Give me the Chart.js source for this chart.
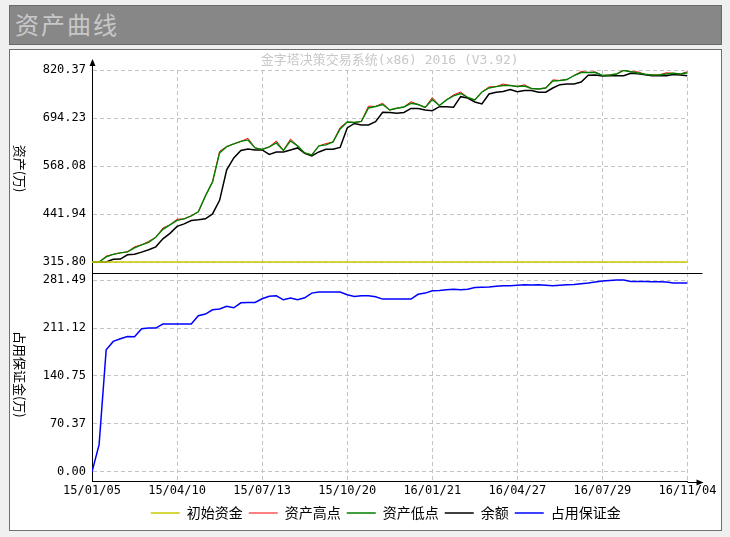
<!DOCTYPE html>
<html>
<head>
<meta charset="utf-8">
<title>资产曲线</title>
<script src="https://cdn.jsdelivr.net/npm/chart.js@4.4.1/dist/chart.umd.min.js"></script>
<style>
  html, body { margin: 0; padding: 0; background: #f0f0f0; width: 730px; height: 537px; overflow: hidden; }
  #titleBar {
    position: absolute; left: 9px; top: 5px; width: 713px; height: 40px; box-sizing: border-box;
    background: #878787; border: 1px solid #6a6a6a; color: #c8c8c8;
    font: 24px "Noto Sans CJK SC", sans-serif; line-height: 36px; padding-left: 5px; letter-spacing: 2px;
  }
  #panel { position: absolute; left: 9px; top: 49px; width: 711px; height: 480px; background: #fff; border: 1px solid #707070; }
  #panel canvas { position: absolute; left: 0; top: 0; }
</style>
</head>
<body>
<div id="titleBar">资产曲线</div>
<div id="panel"><canvas id="equity" width="711" height="480"></canvas></div>
<script>
// tick labels on the date axis, one every 12 points
var xLabels = ['15/01/05', '15/04/10', '15/07/13', '15/10/20', '16/01/21', '16/04/27', '16/07/29', '16/11/04'];
var labelStep = 12;

var initCapital = 315.80;

// 资产高点
var assetHigh = [
  316.0, 316.0, 331.5, 336.3, 340.2, 342.8, 356.0, 361.2, 370.5, 380.9,
  405.5, 413.7, 428.5, 429.4, 437.3, 447.8, 489.8, 526.5, 607.0, 619.1,
  626.2, 632.8, 641.0, 615.7, 611.8, 618.3, 634.0, 609.2, 639.0, 621.0,
  602.6, 597.3, 621.0, 627.0, 631.5, 669.5, 683.9, 682.6, 685.2, 725.5,
  724.6, 733.0, 715.4, 719.9, 723.3, 737.0, 729.8, 722.0, 748.0, 727.2,
  741.7, 755.0, 762.5, 748.2, 741.7, 762.6, 776.0, 776.6, 783.5, 779.7,
  777.1, 781.5, 771.8, 770.5, 773.1, 794.5, 792.8, 795.4, 805.9, 816.5,
  813.8, 815.5, 805.9, 807.3, 809.9, 820.37, 815.9, 815.5, 809.1, 807.3,
  807.3, 813.0, 811.7, 809.9, 816.0
];

// 资产低点
var assetLow = [
  316.0, 316.0, 329.7, 336.3, 340.2, 342.8, 353.3, 361.2, 367.8, 380.9,
  401.9, 413.7, 425.5, 429.4, 437.3, 447.8, 489.8, 526.5, 602.6, 619.1,
  626.2, 632.8, 636.7, 615.7, 611.8, 618.3, 628.8, 609.2, 634.1, 621.0,
  602.6, 597.3, 621.0, 623.6, 631.5, 665.6, 683.9, 682.6, 685.2, 720.7,
  724.6, 729.8, 715.4, 719.9, 723.3, 733.0, 729.8, 722.0, 743.0, 727.2,
  741.7, 752.2, 758.7, 748.2, 741.7, 762.6, 773.1, 776.6, 779.7, 779.7,
  777.1, 778.4, 771.8, 770.5, 773.1, 791.5, 792.8, 795.4, 805.9, 813.8,
  813.8, 813.8, 805.9, 807.3, 809.9, 819.1, 815.9, 812.5, 809.1, 807.3,
  807.3, 809.9, 811.7, 809.9, 813.3
];

// 余额
var balance = [
  316.0, 316.0, 316.0, 323.1, 323.7, 335.0, 336.3, 342.0, 348.1, 355.9,
  376.9, 391.4, 409.7, 416.3, 425.0, 426.8, 429.4, 442.5, 478.0, 558.0,
  589.5, 609.2, 613.1, 610.5, 610.5, 598.7, 605.2, 605.2, 610.5, 615.7,
  601.8, 594.7, 605.2, 612.3, 612.3, 617.0, 668.2, 680.0, 676.1, 676.1,
  684.7, 709.4, 708.9, 706.8, 708.9, 719.4, 719.4, 715.4, 713.6, 724.1,
  724.1, 722.5, 750.3, 746.9, 736.4, 731.2, 757.4, 761.9, 764.0, 769.2,
  763.4, 766.6, 766.6, 761.9, 761.9, 773.1, 781.8, 783.6, 783.6, 788.9,
  806.5, 807.3, 804.6, 805.4, 805.4, 805.4, 811.7, 810.7, 808.0, 805.4,
  805.4, 805.4, 808.6, 807.3, 805.4
];

// 占用保证金
var margin = [
  0.00, 40.0, 179.3, 191.5, 195.4, 198.8, 198.4, 210.1, 211.1, 211.1,
  217.0, 217.0, 217.0, 217.0, 217.0, 229.2, 231.6, 237.9, 239.0, 243.1,
  240.9, 248.2, 248.7, 248.7, 254.1, 257.7, 258.5, 252.6, 255.1, 252.6,
  255.5, 262.4, 263.9, 263.9, 263.9, 263.9, 259.9, 257.4, 258.5, 258.5,
  257.0, 253.6, 253.6, 253.6, 253.6, 253.6, 260.7, 262.4, 265.8, 266.2,
  267.3, 268.0, 267.3, 268.0, 270.6, 270.9, 271.4, 272.4, 273.1, 273.1,
  273.9, 274.6, 274.3, 274.6, 273.9, 273.1, 273.9, 274.6, 275.2, 276.1,
  277.2, 278.6, 280.2, 280.9, 281.49, 281.49, 279.4, 279.4, 279.3, 279.0,
  279.0, 278.6, 277.1, 277.1, 277.1
];

var assetTicks = [315.80, 441.94, 568.08, 694.23, 820.37];
var marginTicks = [0.00, 70.37, 140.75, 211.12, 281.49];

var barIndex = assetLow.map(function (v, i) { return i; });
var lastIndex = assetLow.length - 1;

var monoFont = { family: '"DejaVu Sans Mono", monospace', size: 12 };
var gridColor = '#c4c4c4';

// axis arrows, the panel separator, the vertical axis titles
var decorations = {
  id: 'decorations',
  afterLayout: function (chart) {
    // the legend sits a little left of the plot centre
    var lg = chart.legend;
    var shift = (chart.chartArea.left + chart.chartArea.right) / 2 - 4 - (lg.left + lg.right) / 2;
    lg.left += shift;
    lg.right += shift;
  },
  afterDraw: function (chart) {
    var ctx = chart.ctx;
    var area = chart.chartArea;
    var top = chart.scales.y1;
    var bottom = chart.scales.y;
    var endX = area.right + 15;
    var left = Math.round(area.left) + 0.5;
    ctx.save();
    ctx.strokeStyle = '#000';
    ctx.fillStyle = '#000';
    ctx.lineWidth = 1;

    var sepY = Math.round(top.bottom) + 0.5;
    ctx.beginPath();
    ctx.moveTo(area.left, sepY);
    ctx.lineTo(endX, sepY);
    ctx.stroke();

    var axY = Math.round(area.bottom) + 0.5;
    ctx.beginPath();
    ctx.moveTo(area.right, axY);
    ctx.lineTo(endX, axY);
    ctx.stroke();
    ctx.beginPath();
    ctx.moveTo(endX + 1, axY);
    ctx.lineTo(endX - 6, axY - 3);
    ctx.lineTo(endX - 6, axY + 3);
    ctx.closePath();
    ctx.fill();

    ctx.beginPath();
    ctx.moveTo(left, area.top);
    ctx.lineTo(left, area.top - 9);
    ctx.stroke();
    ctx.beginPath();
    ctx.moveTo(left, area.top - 11);
    ctx.lineTo(left - 3, area.top - 4);
    ctx.lineTo(left + 3, area.top - 4);
    ctx.closePath();
    ctx.fill();

    ctx.font = '13px "Noto Sans CJK SC"';
    ctx.textAlign = 'center';
    ctx.textBaseline = 'middle';
    [[top, '资产(万)'], [bottom, '占用保证金(万)']].forEach(function (t) {
      ctx.save();
      ctx.translate(10, (t[0].top + t[0].bottom) / 2 - 3);
      ctx.rotate(Math.PI / 2);
      ctx.fillText(t[1], 0, 0);
      ctx.restore();
    });
    ctx.restore();
  }
};

var equity = document.getElementById('equity').getContext('2d');
var chartEquity = new Chart(equity, {
  type: 'line',
  data: {
    labels: barIndex,
    datasets: [{
      label: '初始资金',
      data: [{ x: 0, y: initCapital }, { x: lastIndex, y: initCapital }],
      borderColor: '#c8c800',
      backgroundColor: '#c8c800',
      borderWidth: 1.5,
      yAxisID: 'y1',
      order: 0
    }, {
      label: '资产高点',
      data: assetHigh,
      borderColor: '#ff0000',
      backgroundColor: '#ff0000',
      borderWidth: 1,
      yAxisID: 'y1',
      order: 2
    }, {
      label: '资产低点',
      data: assetLow,
      borderColor: '#008000',
      backgroundColor: '#008000',
      borderWidth: 1.4,
      yAxisID: 'y1',
      order: 1
    }, {
      label: '余额',
      data: balance,
      borderColor: '#000000',
      backgroundColor: '#000000',
      borderWidth: 1.5,
      yAxisID: 'y1',
      order: 3
    }, {
      label: '占用保证金',
      data: margin,
      borderColor: '#0000ff',
      backgroundColor: '#0000ff',
      borderWidth: 1.5,
      yAxisID: 'y',
      order: 0
    }]
  },
  options: {
    responsive: false,
    animation: false,
    events: [],
    elements: { point: { radius: 0 }, line: { tension: 0 } },
    layout: { padding: { left: 0, right: 33.5, top: 0, bottom: 0 } },
    plugins: {
      title: {
        display: true,
        fullSize: false,
        text: '金字塔决策交易系统(x86) 2016 (V3.92)',
        color: '#c8c8c8',
        font: { family: '"DejaVu Sans Mono", "Noto Sans CJK SC"', size: 13, weight: 'normal' },
        padding: { top: 3, bottom: 1.4 }
      },
      legend: {
        position: 'bottom',
        labels: {
          usePointStyle: true,
          pointStyle: 'line',
          pointStyleWidth: 29,
          padding: 6,
          color: '#000',
          font: { family: '"Noto Sans CJK SC"', size: 14 },
          sort: function (a, b) { return a.datasetIndex - b.datasetIndex; }
        }
      },
      tooltip: { enabled: false }
    },
    scales: {
      x: {
        type: 'linear',
        min: 0,
        max: lastIndex,
        afterBuildTicks: function (s) {
          s.ticks = xLabels.map(function (l, i) { return { value: i * labelStep }; });
        },
        ticks: {
          autoSkip: false,
          maxRotation: 0,
          padding: 2,
          color: '#000',
          font: monoFont,
          callback: function (v) { return xLabels[Math.round(v / labelStep)]; }
        },
        grid: { color: gridColor, drawTicks: false },
        border: { color: '#000', dash: [4, 3] }
      },
      y: {
        type: 'linear',
        position: 'left',
        stack: 'panels',
        stackWeight: 208.7,
        min: -14.22,
        max: 291.75,
        afterBuildTicks: function (s) {
          s.ticks = marginTicks.map(function (v) { return { value: v }; });
        },
        afterFit: function (s) { s.width = 82; },
        ticks: {
          padding: 6,
          color: '#000',
          font: monoFont,
          callback: function (v) { return v.toFixed(2); }
        },
        grid: { color: gridColor, drawTicks: false },
        border: { color: '#000', dash: [4, 3] }
      },
      y1: {
        type: 'linear',
        position: 'left',
        stack: 'panels',
        stackWeight: 203.3,
        min: 286.94,
        max: 820.37,
        afterBuildTicks: function (s) {
          s.ticks = assetTicks.map(function (v) { return { value: v }; });
        },
        afterFit: function (s) { s.width = 82; },
        ticks: {
          padding: 6,
          color: '#000',
          font: monoFont,
          callback: function (v) { return v.toFixed(2); }
        },
        grid: { color: gridColor, drawTicks: false },
        border: { color: '#000', dash: [4, 3] }
      }
    }
  },
  plugins: [decorations]
});
</script>
</body>
</html>
